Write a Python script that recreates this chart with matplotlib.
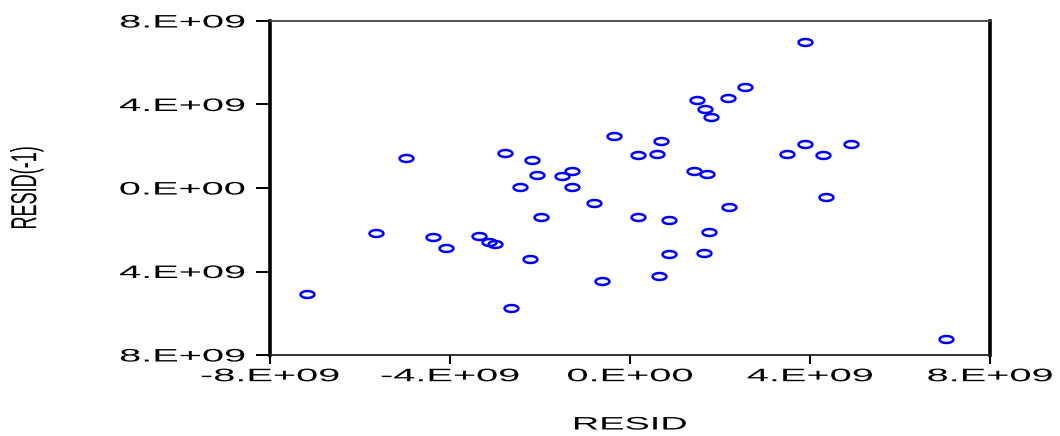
import numpy as np
import matplotlib
matplotlib.use('Agg')
import matplotlib.pyplot as plt
from matplotlib import patheffects
from matplotlib.path import Path
from matplotlib.transforms import Affine2D


# Остатки RESID и их лаг RESID(-1), в единицах 1e9
resid = [3.89, 2.56, 1.49, 2.18, 1.67, 1.80, -0.36, 0.69, 3.89, 4.90,
         -2.78, 0.18, 0.60, 3.49, 4.29, -4.98, -2.18, -1.29, -2.07, -1.51,
         1.42, 1.71, -2.45, -1.29, -0.80, 4.36, 2.20, -1.98, 0.18, 0.87,
         -5.65, -4.38, -3.36, -3.14, -3.00, -4.09, 1.76, -2.23, 0.87, 1.65,
         0.65, -0.62, -7.17, -2.65, 7.03]
resid_lag = [6.99, 4.84, 4.22, 4.31, 3.78, 3.40, 2.49, 2.25, 2.11, 2.11,
             1.68, 1.58, 1.63, 1.63, 1.58, 1.44, 1.34, 0.81, 0.62, 0.57,
             0.81, 0.67, 0.05, 0.05, -0.72, -0.43, -0.91, -1.39, -1.39, -1.53,
             -2.16, -2.35, -2.30, -2.59, -2.68, -2.87, -2.11, -3.40, -3.16, -3.11,
             -4.22, -4.46, -5.08, -5.75, -7.23]

x_ticks = [-8e9, -4e9, 0, 4e9, 8e9]
x_tick_labels = ['-8.E+09', '-4.E+09', '0.E+00', '4.E+09', '8.E+09']
y_ticks = [8e9, 4e9, 0, -4e9, -8e9]
y_tick_labels = ['8.E+09', '4.E+09', '0.E+00', '4.E+09', '8.E+09']


# Растягивание текста по горизонтали (в оригинале шрифт широкий)
class HStretch(patheffects.AbstractPathEffect):
    def __init__(self, sx, anchor='center'):
        super().__init__()
        self.sx = sx
        self.anchor = anchor

    def draw_path(self, renderer, gc, tpath, affine, rgbFace=None):
        ext = tpath.get_extents(affine)
        if self.anchor == 'right':
            ax0 = ext.x1
        elif self.anchor == 'left':
            ax0 = ext.x0
        else:
            ax0 = (ext.x0 + ext.x1) / 2
        t = affine + Affine2D().translate(-ax0, 0).scale(self.sx, 1).translate(ax0, 0)
        renderer.draw_path(gc, tpath, t, rgbFace)


# Маркер - сплюснутый эллипс
theta = np.linspace(0, 2 * np.pi, 40)
ellipse = Path(np.column_stack([np.cos(theta), 0.5 * np.sin(theta)]), closed=True)

plt.rcParams['font.family'] = ['Liberation Sans', 'DejaVu Sans']

fig = plt.figure(figsize=(10.6, 4.36), dpi=100)
ax = fig.add_axes([270 / 1060, 1 - 355 / 436, 720 / 1060, 334 / 436])

x = np.array(resid) * 1e9
y = np.array(resid_lag) * 1e9
ax.plot(x, y, linestyle='none', marker=ellipse, markersize=10,
        markerfacecolor='none', markeredgecolor='#0000ff', markeredgewidth=1.8)

ax.set_xlim(-8e9, 8e9)
ax.set_ylim(-8e9, 8e9)
ax.set_xticks(x_ticks)
ax.set_xticklabels(x_tick_labels)
ax.set_yticks(y_ticks)
ax.set_yticklabels(y_tick_labels)

ax.tick_params(axis='x', direction='out', length=6.5, width=1.5, pad=3,
               labelsize=13, colors='black')
ax.tick_params(axis='y', direction='out', length=10, width=1.4, pad=8,
               labelsize=13, colors='black')

for lab in ax.get_xticklabels():
    lab.set_path_effects([HStretch(2.2, 'center')])
for lab in ax.get_yticklabels():
    lab.set_path_effects([HStretch(2.2, 'right')])

ax.spines['left'].set_linewidth(2.6)
ax.spines['right'].set_linewidth(2.6)
ax.spines['top'].set_linewidth(1.3)
ax.spines['bottom'].set_linewidth(1.3)
ax.spines['top'].set_color('#444444')
ax.spines['bottom'].set_color('#222222')

ax.set_xlabel('RESID', fontsize=13, va='center',
              path_effects=[HStretch(2.1, 'center')])
ax.xaxis.set_label_coords(0.5, (355 - 425) / 334)
ax.set_ylabel('RESID(-1)', fontsize=13, va='center',
              path_effects=[HStretch(2.0, 'center')])
ax.yaxis.set_label_coords((27 - 270) / 720, (355 - 188) / 334)

fig.savefig('out.png', dpi=100)
